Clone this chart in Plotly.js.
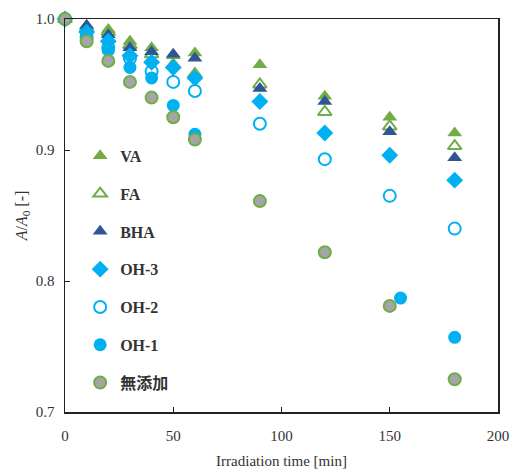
<!DOCTYPE html>
<html>
<head>
<meta charset="utf-8">
<script src="https://cdn.plot.ly/plotly-3.0.1.min.js"></script>
<style>html,body{margin:0;padding:0;background:#fff;}#chart{width:517px;height:473px;}</style>
</head>
<body>
<div id="chart"></div>
<script>
const timeMain = [0, 10, 20, 30, 40, 50, 60, 90, 120, 150, 180];
const timeOH1 = [0, 10, 20, 30, 40, 50, 60, 155, 180];

const seriesNames = ["VA", "FA", "BHA", "OH-3", "OH-2", "OH-1", "無添加"];

const vaValues   = [1.000, 0.995, 0.992, 0.983, 0.978, 0.972, 0.974, 0.965, 0.941, 0.925, 0.913];
const faValues   = [1.000, 0.993, 0.990, 0.980, 0.973, 0.965, 0.958, 0.950, 0.929, 0.918, 0.903];
const bhaValues  = [1.000, 0.995, 0.988, 0.978, 0.975, 0.973, 0.970, 0.947, 0.937, 0.914, 0.894];
const oh3Values  = [1.000, 0.990, 0.983, 0.972, 0.967, 0.963, 0.955, 0.937, 0.913, 0.896, 0.877];
const oh2Values  = [1.000, 0.986, 0.978, 0.970, 0.960, 0.952, 0.945, 0.920, 0.893, 0.865, 0.840];
const oh1Values  = [1.000, 0.988, 0.976, 0.963, 0.955, 0.934, 0.912, 0.787, 0.757];
const noneValues = [1.000, 0.983, 0.968, 0.952, 0.940, 0.925, 0.908, 0.861, 0.822, 0.781, 0.725];

const green = "#70AD47", darkBlue = "#2F5597", cyan = "#00B0F0", gray = "#A5A5A5";

function tr(name, x, y, marker, i) {
  return {type: "scatter", mode: "markers", name: name, x: x, y: y,
          marker: marker, cliponaxis: false, legendgroup: "g" + i};
}

const data = [
  tr(seriesNames[0], timeMain, vaValues, {symbol: "triangle-up", size: 13, color: green, line: {width: 0}}, 0),
  tr(seriesNames[1], timeMain, faValues, {symbol: "triangle-up-open", size: 12, color: green, line: {width: 2, color: green}}, 1),
  tr(seriesNames[2], timeMain, bhaValues, {symbol: "triangle-up", size: 13, color: darkBlue, line: {width: 0}}, 2),
  tr(seriesNames[3], timeMain, oh3Values, {symbol: "diamond", size: 13, color: cyan, line: {width: 0}}, 3),
  tr(seriesNames[4], timeMain, oh2Values, {symbol: "circle-open", size: 12, color: cyan, line: {width: 2, color: cyan}}, 4),
  tr(seriesNames[5], timeOH1, oh1Values, {symbol: "circle", size: 13, color: cyan, line: {width: 0}}, 5),
  tr(seriesNames[6], timeMain, noneValues, {symbol: "circle", size: 12, color: gray, line: {width: 2, color: green}}, 6)
];

const tickFont = {family: "Liberation Serif, Times New Roman, serif", size: 15, color: "#333"};

const layout = {
  width: 517, height: 473,
  margin: {l: 65, r: 19, t: 19, b: 61},
  paper_bgcolor: "#fff", plot_bgcolor: "#fff",
  showlegend: true,
  legend: {x: 0.035, y: 0.695, xanchor: "left", yanchor: "top",
           font: {family: "Liberation Serif, Noto Sans CJK JP, serif", size: 16, color: "#333", weight: "bold"},
           tracegroupgap: 14, itemwidth: 30, bgcolor: "rgba(0,0,0,0)"},
  xaxis: {range: [0, 200], dtick: 50, tick0: 0, ticks: "inside", ticklen: 5, tickcolor: "#222",
          showline: true, linecolor: "#222", linewidth: 1.5, mirror: true, showgrid: false, zeroline: false,
          tickfont: tickFont, ticklabelstandoff: 9,
          title: {text: "Irradiation time [min]", font: tickFont, standoff: 13}},
  yaxis: {range: [0.7, 1.0], dtick: 0.1, tick0: 0.7, tickformat: ".1f", ticks: "inside", ticklen: 5, tickcolor: "#222",
          showline: true, linecolor: "#222", linewidth: 1.5, mirror: true, showgrid: false, zeroline: false,
          tickfont: tickFont, ticklabelstandoff: 6,
          title: {text: "<i>A</i>/<i>A</i><sub>0</sub> [-]", font: {family: "Liberation Serif, serif", size: 16, color: "#333"}, standoff: 4}}
};

Plotly.newPlot("chart", data, layout, {displayModeBar: false, staticPlot: true});
</script>
</body>
</html>
